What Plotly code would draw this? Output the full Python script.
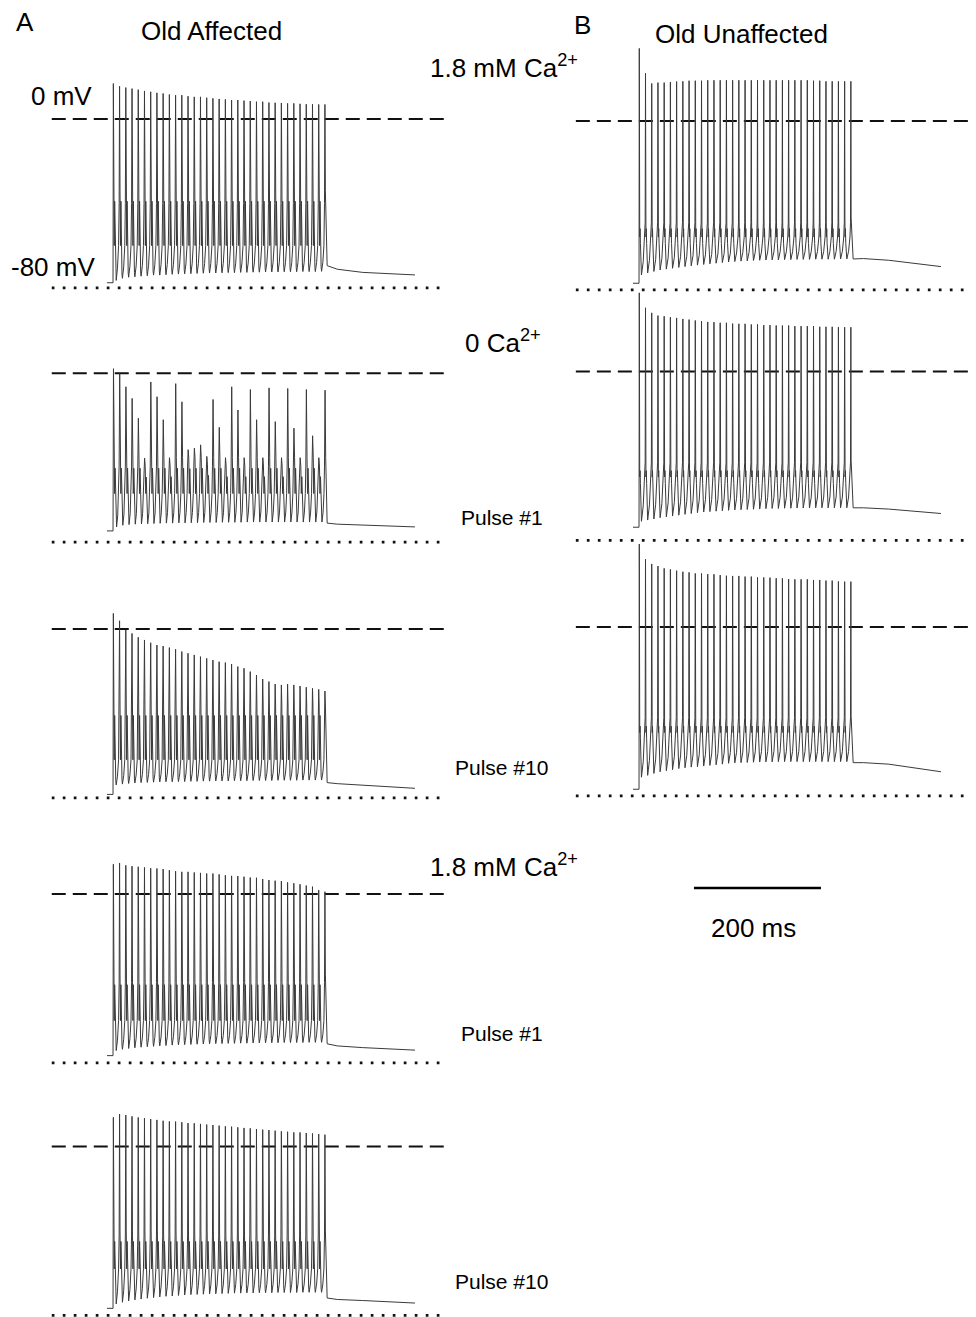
import plotly.graph_objects as go

# ---------------------------------------------------------------- data
ONSET_MS = 9.5          # start of stimulation after trace start
TRACE_END_MS = 485.0
SPIKE_TIMES_MS = [0.0, 9.8, 19.6, 29.4, 39.2, 49.0, 58.8, 68.6, 78.4, 88.2,
                  98.0, 107.8, 117.6, 127.4, 137.2, 147.0, 156.8, 166.6, 176.4, 186.2,
                  196.0, 205.8, 215.6, 225.4, 235.2, 245.0, 254.8, 264.6, 274.4, 284.2,
                  294.0, 303.8, 313.6, 323.4, 333.2]
POST_TIMES_AFTER_LAST_MS = [4.0, 20.0, 60.0]
SCALEBAR_MS = 200
SCALEBAR_START_MS = 96

# Panel A1: Old Affected, 1.8 mM Ca2+
A1_PEAKS = [16.8, 15.5, 14.9, 14.4, 13.9, 13.3, 12.9, 12.4, 12.1, 11.6, 11.3, 11.3, 10.8, 10.5, 10.5,
            10.1, 9.8, 9.5, 9.3, 9.0, 9.0, 8.7, 8.5, 8.2, 8.2, 7.8, 7.7, 7.6, 7.4, 7.4, 7.2, 7.0, 7.0, 6.9, 6.9]
A1_TROUGHS = [-76.5, -75.5, -75.0, -74.8, -74.5, -74.3, -74.0, -74.0, -73.8, -73.6, -73.5, -73.4, -73.3,
              -73.2, -73.1, -73.0, -73.0, -72.9, -72.8, -72.8, -72.7, -72.7, -72.6, -72.6, -72.5, -72.5,
              -72.5, -72.4, -72.4, -72.4, -72.3, -72.3, -72.3, -72.2, -72.2]
A1_PRE = -77.6
A1_POST = [-69.5, -71.2, -72.7, -73.9]

# Panel A2: 0 Ca2+, pulse #1
A2_PEAKS = [2.2, -0.2, -6.4, -11.9, -21.3, -40.2, -4.1, -11.1, -22.0, -40.0, -4.9, -13.5, -36.2, -35.5,
            -33.9, -39.4, -12.4, -25.6, -40.0, -6.4, -17.4, -40.0, -7.7, -22.0, -40.0, -6.9, -22.9, -40.0,
            -7.2, -26.0, -40.0, -7.7, -29.6, -40.0, -8.0]
A2_TROUGHS = [-72.8, -72.0, -71.7, -71.5, -71.4, -71.3, -71.2, -71.1, -71.0, -71.0, -70.9, -70.9, -70.8,
              -70.8, -70.7, -70.7, -70.7, -70.6, -70.6, -70.6, -70.6, -70.5, -70.5, -70.5, -70.5, -70.5,
              -70.5, -70.5, -70.5, -70.5, -70.5, -70.5, -70.5, -70.5, -70.5]
A2_PRE = -74.7
A2_POST = [-71.0, -71.5, -72.0, -72.8]

# Panel A3: 0 Ca2+, pulse #10
A3_PEAKS = [7.4, 3.9, -0.5, -2.1, -3.9, -5.2, -6.5, -7.6, -8.1, -8.8, -9.6, -10.7, -11.5, -12.3, -13.1,
            -13.9, -14.7, -15.5, -15.9, -16.6, -17.8, -18.6, -20.2, -21.8, -23.7, -24.9, -26.1, -26.5,
            -26.1, -26.5, -27.0, -27.6, -28.1, -28.6, -29.4]
A3_TROUGHS = [-73.9, -73.5, -73.2, -73.0, -72.8, -72.7, -72.6, -72.5, -72.4, -72.4, -72.3, -72.3, -72.2,
              -72.2, -72.1, -72.1, -72.0, -72.0, -72.0, -71.9, -71.9, -71.9, -71.8, -71.8, -71.8, -71.8,
              -71.7, -71.7, -71.7, -71.7, -71.6, -71.6, -71.6, -71.6, -71.6]
A3_PRE = -78.4
A3_POST = [-72.8, -73.3, -74.0, -75.5]

# Panel A4: 1.8 mM Ca2+ restored, pulse #1
A4_PEAKS = [14.1, 14.7, 13.6, 13.2, 12.9, 12.6, 12.2, 12.1, 11.8, 11.3, 10.8, 10.5, 10.5, 10.2, 10.0,
            9.7, 9.7, 9.3, 8.9, 8.6, 8.5, 8.2, 7.8, 7.7, 7.1, 6.6, 6.3, 6.1, 5.5, 5.1, 4.6, 4.0, 3.5, 1.9, 1.1]
A4_TROUGHS = [-74.2, -73.6, -73.2, -72.9, -72.6, -72.4, -72.2, -72.0, -71.8, -71.6, -71.5, -71.4, -71.3,
              -71.2, -71.1, -71.0, -70.9, -70.9, -70.8, -70.8, -70.7, -70.7, -70.6, -70.6, -70.5, -70.5,
              -70.5, -70.4, -70.4, -70.4, -70.4, -70.3, -70.3, -70.3, -70.3]
A4_PRE = -76.6
A4_POST = [-71.0, -72.0, -72.8, -74.0]

# Panel A5: 1.8 mM Ca2+ restored, pulse #10
A5_PEAKS = [13.8, 15.4, 14.9, 14.3, 13.8, 13.4, 13.0, 12.6, 12.2, 11.9, 11.8, 11.5, 11.1, 11.0, 10.7,
            10.4, 10.2, 9.9, 9.6, 9.4, 9.1, 8.8, 8.6, 8.3, 8.0, 7.8, 7.5, 7.2, 7.0, 6.7, 6.7, 6.4, 6.2, 5.9, 5.6]
A5_TROUGHS = [-74.6, -73.8, -73.2, -72.7, -72.3, -71.9, -71.6, -71.3, -71.0, -70.8, -70.6, -70.4, -70.2,
              -70.1, -70.0, -69.9, -69.8, -69.7, -69.6, -69.5, -69.5, -69.4, -69.4, -69.3, -69.3, -69.3,
              -69.2, -69.2, -69.2, -69.2, -69.1, -69.1, -69.1, -69.1, -69.1]
A5_PRE = -76.7
A5_POST = [-71.8, -72.5, -73.0, -74.2]

# Panel B1: Old Unaffected, 1.8 mM Ca2+
B1_PEAKS = [34.4, 22.6, 17.8, 18.2, 18.2, 18.5, 18.7, 18.8, 19.1, 19.1, 19.1, 19.3, 19.3, 19.3, 19.3,
            19.3, 19.3, 19.3, 19.3, 19.3, 19.3, 19.3, 19.3, 19.3, 19.3, 19.3, 19.3, 19.3, 19.1, 19.1,
            18.8, 18.8, 18.8, 18.8, 18.8]
B1_TROUGHS = [-73.0, -72.0, -71.3, -70.6, -70.2, -69.8, -69.4, -69.0, -68.6, -68.3, -68.0, -67.7, -67.4,
              -67.1, -66.8, -66.6, -66.4, -66.3, -66.1, -66.0, -65.9, -65.8, -65.8, -65.7, -65.7, -65.6,
              -65.6, -65.6, -65.5, -65.5, -65.5, -65.5, -65.4, -65.4, -65.4]
B1_PRE = -76.9
B1_POST = [-65.4, -65.2, -66.0, -69.0]

# Panel B2: 0 Ca2+
B2_PEAKS = [37.3, 30.2, 27.8, 26.5, 26.2, 25.7, 25.4, 24.9, 24.6, 24.2, 23.9, 23.5, 23.4, 23.1, 23.1,
            22.7, 22.6, 22.6, 22.3, 22.3, 22.0, 22.0, 21.8, 21.8, 21.8, 21.5, 21.5, 21.5, 21.5, 21.2,
            21.2, 21.2, 21.0, 21.0, 21.0]
B2_TROUGHS = [-71.0, -70.4, -69.9, -69.3, -68.9, -68.5, -68.1, -67.7, -67.3, -66.9, -66.6, -66.4, -66.2,
              -66.0, -65.8, -65.6, -65.5, -65.4, -65.3, -65.2, -65.0, -64.9, -64.9, -64.8, -64.8, -64.7,
              -64.7, -64.7, -64.6, -64.6, -64.6, -64.6, -64.6, -64.6, -64.6]
B2_PRE = -73.8
B2_POST = [-64.6, -64.6, -65.2, -67.3]

# Panel B3: 0 Ca2+, later pulse
B3_PEAKS = [39.3, 32.1, 29.9, 28.9, 27.8, 27.3, 26.7, 26.2, 25.9, 25.4, 25.4, 25.1, 25.0, 24.6, 24.3,
            24.2, 24.2, 23.9, 23.9, 23.5, 23.5, 23.4, 23.1, 23.1, 22.7, 22.6, 22.6, 22.6, 22.3, 22.3,
            22.0, 22.0, 21.6, 21.5, 21.5]
B3_TROUGHS = [-71.2, -70.3, -69.4, -68.6, -68.1, -67.6, -67.1, -66.7, -66.4, -66.2, -65.9, -65.6, -65.3,
              -65.0, -64.6, -64.4, -64.3, -64.2, -64.1, -64.0, -63.9, -63.9, -63.8, -63.8, -63.8, -63.8,
              -63.8, -63.8, -63.8, -63.8, -63.8, -63.8, -63.8, -63.8, -63.8]
B3_PRE = -76.9
B3_POST = [-64.3, -64.3, -65.0, -68.6]

ZERO_MV = 0
REF_LOW_MV = -80
REF_SPAN_A_MS = [-87, 532]
REF_SPAN_B_MS = [-90, 541]

# ---------------------------------------------------------------- style / geometry (pixels of the page)
OFF = 8                       # page body margin
W, H = 976 - OFF, 1317 - OFF  # figure size
PX_PER_MS = 127 / 200.0
PX_PER_MV = 2.11
COLS = {"A": (40, 460, 107), "B": (565, 976, 633)}   # left, right, x of trace start

# spike drawing templates: (time offset ms after the spike, waveform phase)
TPL_A = [(0.5, "pk"), (1.2, "sh"), (1.9, "kn"), (2.6, "adp"), (3.4, "kn2"), (4.3, "trp"), (5.0, "tr"),
         (7.0, "rec"), (8.7, "nkn"), (9.6, "nto")]
TPL_A2 = [(0.7, "pk"), (1.7, "sh"), (2.5, "kn"), (3.3, "adp"), (4.1, "kn2"), (4.9, "trp"), (5.6, "tr"),
          (7.4, "rec"), (8.8, "nkn"), (9.6, "nto")]
TPL_B = [(0.4, "pk"), (0.8, "sh"), (1.1, "kn"), (1.6, "adp"), (2.2, "kn2"), (3.0, "trp"), (3.8, "tr"),
         (6.6, "rec"), (8.8, "nkn"), (9.65, "nto")]

PANELS = [
    # data, col, y of 0 mV, top, bottom, takeoff, shoulder, knee, template
    (A1_PEAKS, A1_TROUGHS, A1_PRE, A1_POST, "A", 119.0, 40, 300, -40, -34, -60, TPL_A),
    (A2_PEAKS, A2_TROUGHS, A2_PRE, A2_POST, "A", 373.3, 300, 556, -44, -40, -57, TPL_A2),
    (A3_PEAKS, A3_TROUGHS, A3_PRE, A3_POST, "A", 629.0, 556, 812, -40, -36, -62, TPL_A),
    (A4_PEAKS, A4_TROUGHS, A4_PRE, A4_POST, "A", 894.0, 812, 1075, -42, -38, -60, TPL_A),
    (A5_PEAKS, A5_TROUGHS, A5_PRE, A5_POST, "A", 1146.5, 1075, 1317, -42, -40, -58, TPL_A),
    (B1_PEAKS, B1_TROUGHS, B1_PRE, B1_POST, "B", 121.0, 40, 296, -48, -46, -55, TPL_B),
    (B2_PEAKS, B2_TROUGHS, B2_PRE, B2_POST, "B", 371.5, 288, 552, -43, -42, -50, TPL_B),
    (B3_PEAKS, B3_TROUGHS, B3_PRE, B3_POST, "B", 627.0, 538, 812, -43, -42, -50, TPL_B),
]


def fx(px):
    return (px - OFF) / W


def fy(py):
    return 1 - (py - OFF) / H


def build_trace(peaks, troughs, pre, post, takeoff, shoulder, knee, tpl):
    t = [0.0, ONSET_MS]
    v = [pre, pre]
    n = len(peaks)
    for i in range(n):
        t0 = ONSET_MS + SPIKE_TIMES_MS[i]
        pk = peaks[i]
        sh = min(shoulder, pk - 4)
        kn = min(knee, sh - 4)
        if i < n - 1:
            tr = troughs[i]
            nto = min(takeoff, peaks[i + 1] - 6)
            nkn = min(knee, nto - 6)
            lv = {"pk": pk, "sh": sh, "kn": kn, "adp": sh - 5, "kn2": kn - 3, "trp": tr + 2.0, "tr": tr,
                  "rec": tr + 0.35 * (nkn - tr), "nkn": nkn, "nto": nto}
            for dt, ph in tpl:
                t.append(t0 + dt)
                v.append(lv[ph])
        else:
            t += [t0 + tpl[0][0], t0 + tpl[1][0]]
            v += [pk, sh]
            t += [t0 + p for p in POST_TIMES_AFTER_LAST_MS] + [TRACE_END_MS]
            v += post
    return t, v


fig = go.Figure()
layout_axes = {}
for k, (pk, tr, pre, post, col, y0, top, bot, takeoff, shoulder, knee, tpl) in enumerate(PANELS, start=1):
    left, right, x0 = COLS[col]
    xs = "x" if k == 1 else f"x{k}"
    ys = "y" if k == 1 else f"y{k}"
    xname = "xaxis" if k == 1 else f"xaxis{k}"
    yname = "yaxis" if k == 1 else f"yaxis{k}"
    layout_axes[xname] = dict(domain=[fx(left), fx(right)],
                              range=[(left - x0) / PX_PER_MS, (right - x0) / PX_PER_MS],
                              visible=False, anchor=ys, fixedrange=True)
    layout_axes[yname] = dict(domain=[max(0, fy(bot)), fy(top)],
                              range=[-(bot - y0) / PX_PER_MV if fy(bot) >= 0 else -((1317 - y0) / PX_PER_MV),
                                     (y0 - top) / PX_PER_MV],
                              visible=False, anchor=xs, fixedrange=True)
    span = REF_SPAN_A_MS if col == "A" else REF_SPAN_B_MS
    fig.add_trace(go.Scatter(x=span, y=[ZERO_MV, ZERO_MV], xaxis=xs, yaxis=ys, mode="lines",
                             line=dict(color="#111111", width=1.9, dash="14px,7px"),
                             hoverinfo="skip", showlegend=False))
    fig.add_trace(go.Scatter(x=span, y=[REF_LOW_MV, REF_LOW_MV], xaxis=xs, yaxis=ys, mode="lines",
                             line=dict(color="#111111", width=2.7, dash="2.7px,8.3px"),
                             hoverinfo="skip", showlegend=False))
    tt, vv = build_trace(pk, tr, pre, post, takeoff, shoulder, knee, tpl)
    fig.add_trace(go.Scatter(x=tt, y=vv, xaxis=xs, yaxis=ys, mode="lines",
                             line=dict(color="#3a3a3a", width=1.0),
                             hoverinfo="skip", showlegend=False))

# scale bar axes
k = len(PANELS) + 1
left, right, x0 = COLS["B"]
layout_axes[f"xaxis{k}"] = dict(domain=[fx(left), fx(right)],
                                range=[(left - x0) / PX_PER_MS, (right - x0) / PX_PER_MS],
                                visible=False, anchor=f"y{k}", fixedrange=True)
layout_axes[f"yaxis{k}"] = dict(domain=[fy(900), fy(876)], range=[-1, 1],
                                visible=False, anchor=f"x{k}", fixedrange=True)
fig.add_trace(go.Scatter(x=[SCALEBAR_START_MS, SCALEBAR_START_MS + SCALEBAR_MS], y=[0, 0],
                         xaxis=f"x{k}", yaxis=f"y{k}", mode="lines",
                         line=dict(color="black", width=2.6), hoverinfo="skip", showlegend=False))

FONT = "Liberation Sans, Arial, sans-serif"


def ann(text, px, py, size=26, xanchor="center"):
    return dict(text=text, x=fx(px), y=fy(py), xref="paper", yref="paper",
                xanchor=xanchor, yanchor="middle", showarrow=False,
                font=dict(family=FONT, size=size, color="black"))


annotations = [
    ann("A", 25, 22),
    ann("B", 582, 25),
    ann("Old Affected", 211, 31),
    ann("Old Unaffected", 741, 34),
    ann("0 mV", 61, 96),
    ann("-80 mV", 53, 267),
    ann("1.8 mM Ca<sup>2+</sup>", 428, 66, xanchor="left"),
    ann("0 Ca<sup>2+</sup>", 463, 341, xanchor="left"),
    ann("Pulse #1", 459, 517, size=21, xanchor="left"),
    ann("Pulse #10", 453, 767, size=21, xanchor="left"),
    ann("1.8 mM Ca<sup>2+</sup>", 428, 865, xanchor="left"),
    ann("Pulse #1", 459, 1033, size=21, xanchor="left"),
    ann("Pulse #10", 453, 1281, size=21, xanchor="left"),
    ann("200 ms", 753, 928),
]

fig.update_layout(width=W, height=H, margin=dict(l=0, r=0, t=0, b=0),
                  paper_bgcolor="white", plot_bgcolor="rgba(0,0,0,0)",
                  showlegend=False, annotations=annotations, **layout_axes)

fig.write_html("out.html", config={"displayModeBar": False})
